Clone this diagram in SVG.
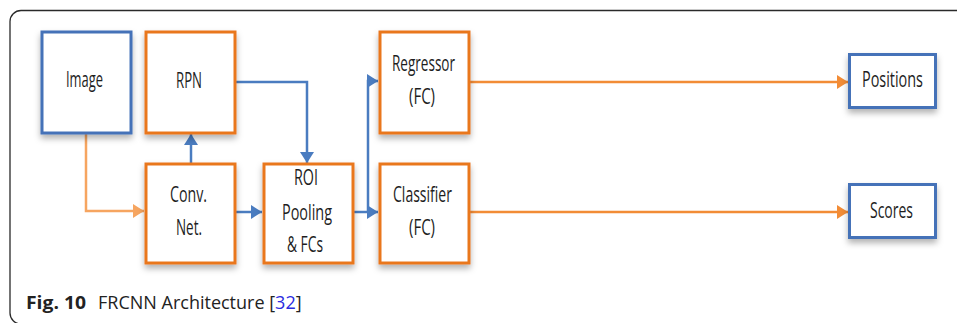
<svg xmlns="http://www.w3.org/2000/svg" width="957" height="323" viewBox="0 0 957 323">
<defs>
<style>
.bb{fill:#fff;stroke:#4472B8;stroke-width:3}
.ob{fill:#fff;stroke:#E9771F;stroke-width:3}
.t{font-family:"Open Sans","Liberation Sans",sans-serif;font-size:22px;fill:#1e1e1e;text-anchor:middle}
.tc{font-family:"Open Sans","Liberation Sans",sans-serif;font-size:18px;fill:#222}
.bl{fill:none;stroke:#4A7CC0;stroke-width:2.5}
.ol{fill:none;stroke:#F28C36;stroke-width:2.5}
.lo{fill:none;stroke:#F6A560;stroke-width:2.5}
</style>
<filter id="sh" x="-20%" y="-20%" width="140%" height="150%">
<feDropShadow dx="0" dy="4" stdDeviation="3" flood-color="#000" flood-opacity="0.3"/>
</filter>
<marker id="ab" markerUnits="userSpaceOnUse" markerWidth="12" markerHeight="14" refX="11" refY="7" orient="auto">
<path d="M0,0 L11,7 L0,14 Z" fill="#4A7CC0"/>
</marker>
<marker id="ao" markerUnits="userSpaceOnUse" markerWidth="12" markerHeight="14" refX="11" refY="7" orient="auto">
<path d="M0,0 L11,7 L0,14 Z" fill="#F28C36"/>
</marker>
<marker id="alo" markerUnits="userSpaceOnUse" markerWidth="12" markerHeight="14" refX="11" refY="7" orient="auto">
<path d="M0,0 L11,7 L0,14 Z" fill="#F6A560"/>
</marker>
</defs>
<rect width="957" height="323" fill="#fff"/>
<path d="M957,10.5 H21 A11,11 0 0 0 10,21.5 V313 A11,11 0 0 0 21,324 H957" fill="none" stroke="#2a2a2a" stroke-width="1.3"/>

<g id="connectors">
<path class="lo" d="M86,134 V211 H144" marker-end="url(#alo)"/>
<path class="bl" d="M191,164 V134" marker-end="url(#ab)"/>
<path class="bl" d="M235,82 H307 V163" marker-end="url(#ab)"/>
<path class="bl" d="M235,212 H262" marker-end="url(#ab)"/>
<path class="bl" d="M353,212 H378" marker-end="url(#ab)"/>
<path class="bl" d="M368,212 V81 H378" marker-end="url(#ab)"/>
<path class="ol" d="M469,82 H848" marker-end="url(#ao)"/>
<path class="ol" d="M469,212 H848" marker-end="url(#ao)"/>
</g>

<g id="image"><rect class="bb" x="42" y="32" width="89" height="101" filter="url(#sh)"/>
<text class="t" x="84.5" y="87" textLength="37" lengthAdjust="spacingAndGlyphs">Image</text></g>

<g id="rpn"><rect class="ob" x="146" y="32" width="89" height="101" filter="url(#sh)"/>
<text class="t" x="189" y="88" textLength="26" lengthAdjust="spacingAndGlyphs">RPN</text></g>

<g id="conv"><rect class="ob" x="146" y="164" width="89" height="99" filter="url(#sh)"/>
<text class="t" x="188.5" y="202" textLength="37" lengthAdjust="spacingAndGlyphs">Conv.</text>
<text class="t" x="189" y="235" textLength="26" lengthAdjust="spacingAndGlyphs">Net.</text></g>

<g id="roi"><rect class="ob" x="264" y="164" width="89" height="99" filter="url(#sh)"/>
<text class="t" x="306" y="185" textLength="24" lengthAdjust="spacingAndGlyphs">ROI</text>
<text class="t" x="307" y="220" textLength="50" lengthAdjust="spacingAndGlyphs">Pooling</text>
<text class="t" x="305" y="252" textLength="36" lengthAdjust="spacingAndGlyphs">&amp; FCs</text></g>

<g id="regressor"><rect class="ob" x="380" y="32" width="89" height="101" filter="url(#sh)"/>
<text class="t" x="423.5" y="71" textLength="63" lengthAdjust="spacingAndGlyphs">Regressor</text>
<text class="t" x="422" y="104" textLength="26" lengthAdjust="spacingAndGlyphs">(FC)</text></g>

<g id="classifier"><rect class="ob" x="380" y="164" width="89" height="99" filter="url(#sh)"/>
<text class="t" x="422.5" y="202" textLength="59" lengthAdjust="spacingAndGlyphs">Classifier</text>
<text class="t" x="422" y="235" textLength="26" lengthAdjust="spacingAndGlyphs">(FC)</text></g>

<g id="positions"><rect class="bb" x="849.5" y="54.5" width="86" height="53" filter="url(#sh)"/>
<text class="t" x="892.5" y="87" textLength="61" lengthAdjust="spacingAndGlyphs">Positions</text></g>

<g id="scores"><rect class="bb" x="849.5" y="184.5" width="86" height="53" filter="url(#sh)"/>
<text class="t" x="891.5" y="218" textLength="43" lengthAdjust="spacingAndGlyphs">Scores</text></g>

<text class="tc" x="26" y="309" font-weight="bold" textLength="60" lengthAdjust="spacingAndGlyphs">Fig. 10</text>
<text class="tc" x="98" y="309">FRCNN Architecture [<tspan fill="#2B2BE0">32</tspan>]</text>
</svg>
